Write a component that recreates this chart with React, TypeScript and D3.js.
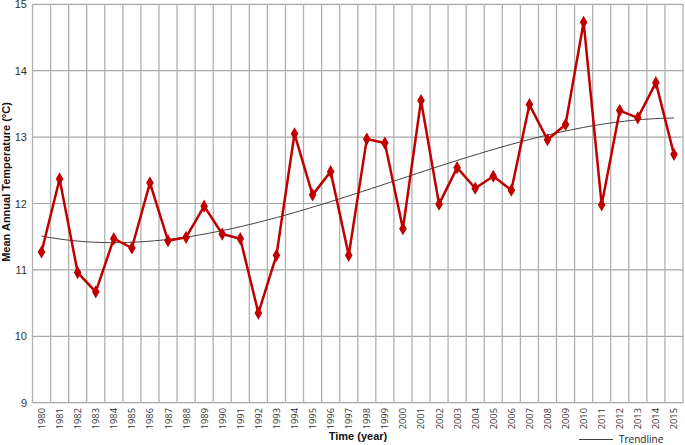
import React from "react";
import * as d3 from "d3";

const years = [1980,1981,1982,1983,1984,1985,1986,1987,1988,1989,1990,1991,1992,1993,1994,1995,1996,1997,1998,1999,2000,2001,2002,2003,2004,2005,2006,2007,2008,2009,2010,2011,2012,2013,2014,2015];
const temps = [11.27,12.37,10.96,10.67,11.47,11.33,12.31,11.44,11.49,11.96,11.54,11.47,10.35,11.22,13.05,12.13,12.48,11.22,12.97,12.91,11.62,13.55,11.99,12.54,12.23,12.41,12.20,13.49,12.96,13.19,14.73,11.98,13.40,13.29,13.82,12.74];
const yTicks = [9,10,11,12,13,14,15];

// cubic least-squares trendline (like a spreadsheet polynomial trendline)
function polyFit(xs: number[], ys: number[], order: number) {
  const n = order + 1;
  const A: number[][] = Array.from({ length: n }, () => new Array(n + 1).fill(0));
  for (let i = 0; i < xs.length; i++) {
    for (let r = 0; r < n; r++) {
      for (let c = 0; c < n; c++) A[r][c] += Math.pow(xs[i], r + c);
      A[r][n] += ys[i] * Math.pow(xs[i], r);
    }
  }
  for (let i = 0; i < n; i++) {
    let max = i;
    for (let k = i + 1; k < n; k++) if (Math.abs(A[k][i]) > Math.abs(A[max][i])) max = k;
    [A[i], A[max]] = [A[max], A[i]];
    for (let k = i + 1; k < n; k++) {
      const f = A[k][i] / A[i][i];
      for (let j = i; j <= n; j++) A[k][j] -= f * A[i][j];
    }
  }
  const coef = new Array(n).fill(0);
  for (let i = n - 1; i >= 0; i--) {
    let s = A[i][n];
    for (let j = i + 1; j < n; j++) s -= A[i][j] * coef[j];
    coef[i] = s / A[i][i];
  }
  return (x: number) => coef.reduce((acc, c, i) => acc + c * Math.pow(x, i), 0);
}

export default function App() {
  const W = 685, H = 445;
  const left = 32.5, right = 683, top = 4.3, bottom = 402.7;
  const x = d3.scaleBand<number>().domain(years).range([left, right]).padding(0);
  const y = d3.scaleLinear().domain([9, 15]).range([bottom, top]);
  const cx = (yr: number) => (x(yr) as number) + x.bandwidth() / 2;

  const idx = years.map((_, i) => i + 1);
  const fit = polyFit(idx, temps, 3);
  const trendPts: [number, number][] = [];
  for (let t = 1; t <= years.length; t += 0.25) {
    const px = left + (t - 0.5) * x.bandwidth();
    trendPts.push([px, y(fit(t))]);
  }
  const line = d3.line<number>().x((_, i) => cx(years[i])).y((d) => y(d));
  const trendLine = d3.line<[number, number]>().curve(d3.curveLinear);
  const diamond = d3.symbol().type(d3.symbolDiamond).size(30)();

  return (
    <svg width={W} height={H} style={{ position: "absolute", left: 0, top: 0, background: "#fff" }}>
      <rect x={0} y={0} width={W} height={H} fill="#fff" />
      {/* horizontal grid */}
      {yTicks.map((t) => (
        <line key={"h" + t} x1={left} x2={right} y1={y(t)} y2={y(t)} stroke="#a6a6a6" strokeWidth={1.2} />
      ))}
      {/* vertical grid at band boundaries */}
      {years.map((yr) => (
        <line key={"v" + yr} x1={x(yr) as number} x2={x(yr) as number} y1={top} y2={bottom} stroke="#b0b0b0" strokeWidth={1.3} />
      ))}
      <line x1={right} x2={right} y1={top} y2={bottom} stroke="#b0b0b0" strokeWidth={1.3} />
      {/* y tick labels */}
      {yTicks.map((t) => (
        <text key={"yt" + t} x={27} y={y(t) + 4} textAnchor="end" fontFamily="Liberation Sans, Arial, sans-serif" fontSize={11} fill="#333">
          {t}
        </text>
      ))}
      {/* x tick labels */}
      {years.map((yr) => (
        <text
          key={"xt" + yr}
          transform={`translate(${cx(yr) + 3.5},${408}) rotate(-90)`}
          textAnchor="end"
          fontFamily="Open Sans, Noto Sans, sans-serif"
          fontSize={9.3}
          fill="#333"
        >
          {yr}
        </text>
      ))}
      {/* axis titles */}
      <text transform={`translate(10,182) rotate(-90)`} textAnchor="middle" fontFamily="Liberation Sans, Arial, sans-serif" fontWeight="bold" fontSize={11} fill="#111">
        Mean Annual Temperature (°C)
      </text>
      <text x={358} y={440} textAnchor="middle" fontFamily="Liberation Sans, Arial, sans-serif" fontWeight="bold" fontSize={11} fill="#111">
        Time (year)
      </text>
      {/* trendline */}
      <path d={trendLine(trendPts) || ""} fill="none" stroke="#404040" strokeWidth={1} />
      {/* data line */}
      <path d={line(temps) || ""} fill="none" stroke="#c00000" strokeWidth={2.5} strokeLinejoin="round" />
      {temps.map((v, i) => (
        <path key={"m" + i} d={diamond || ""} transform={`translate(${cx(years[i])},${y(v)})`} fill="#c00000" stroke="#c00000" strokeWidth={1.5} />
      ))}
      {/* legend */}
      <line x1={579} x2={613} y1={439.5} y2={439.5} stroke="#404040" strokeWidth={1} />
      <text x={619} y={443} fontFamily="Open Sans, Noto Sans, sans-serif" fontSize={10} fill="#222">
        Trendline
      </text>
    </svg>
  );
}
